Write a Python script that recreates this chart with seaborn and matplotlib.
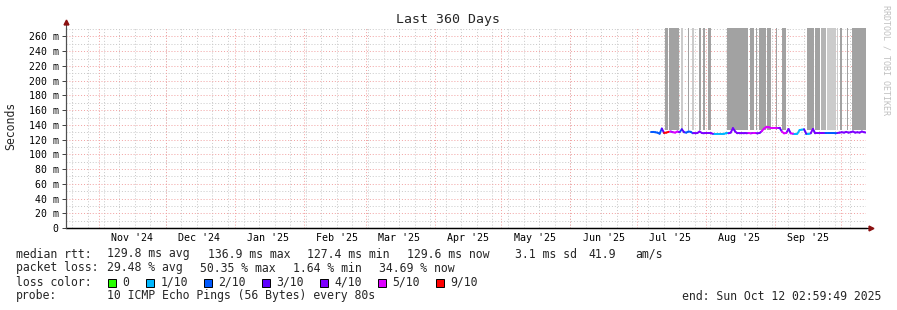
import numpy as np
import pandas as pd
import matplotlib
matplotlib.use("Agg")
import matplotlib.pyplot as plt
from matplotlib.patches import Rectangle
import seaborn as sns

# ---------------- data ----------------
data_start = "2025-07-07 06:00"
rtt_ms = [
    # July 7..31
    130.5, 130.5, 130, 129.5, 128, 135, 129, 129.5, 130.5, 131, 130, 129.5, 131,
    130, 134, 130, 129.5, 131, 130.5, 128.5, 128.5, 129, 131, 129, 128.5,
    # August 1..31
    128.5, 128.5, 128.5, 128, 128, 128, 128, 128, 128, 128.5, 128.5, 129.5, 135.5,
    131, 128.5, 128.5, 129, 128.5, 128.5, 129, 128.5, 129, 129, 128.5, 129, 131.5,
    135, 136.5, 136.5, 136, 136,
    # September 1..30
    136, 136, 136, 131, 128.5, 129, 134.5, 128.5, 128, 128, 128, 133, 133.5, 134,
    128, 128, 128.5, 134.5, 128.5, 128.5, 128.5, 128.5, 128.5, 128.5, 128.5, 128.5,
    128.5, 128.5, 129, 129.5,
    # October 1..12
    130, 129.5, 130.5, 129.5, 130, 131, 129.5, 130, 129.5, 131, 130, 129.5,
]
loss_level = [
    "2/10", "2/10", "2/10", "2/10", "2/10", "3/10", "9/10", "9/10", "5/10", "4/10", "5/10", "5/10", "4/10",
    "2/10", "3/10", "2/10", "2/10", "2/10", "2/10", "4/10", "4/10", "4/10", "4/10", "4/10", "4/10",
    "4/10", "4/10", "4/10", "1/10", "1/10", "1/10", "1/10", "1/10", "1/10", "1/10", "4/10", "4/10", "3/10",
    "4/10", "4/10", "4/10", "4/10", "4/10", "4/10", "5/10", "4/10", "5/10", "4/10", "4/10", "4/10", "5/10",
    "5/10", "5/10", "5/10", "5/10", "5/10",
    "5/10", "4/10", "3/10", "5/10", "5/10", "4/10", "3/10", "5/10", "1/10", "1/10", "1/10", "1/10", "1/10", "3/10",
    "1/10", "1/10", "4/10", "3/10", "4/10", "4/10", "4/10", "4/10", "2/10", "2/10", "2/10", "2/10",
    "2/10", "2/10", "4/10", "4/10",
    "4/10", "4/10", "4/10", "4/10", "4/10", "4/10", "4/10", "4/10", "4/10", "4/10", "4/10", "4/10",
]
loss_labels = ["0", "1/10", "2/10", "3/10", "4/10", "5/10", "9/10"]
loss_colors = ["#26ff00", "#00b8ff", "#0059ff", "#5e00ff", "#7e00ff", "#dd00ff", "#ff0000"]

# smoke (packet-loss / spread) bands reaching the top of the graph
band_start = ["2025-07-13 16:00", "2025-07-15 11:00", "2025-07-20 21:00", "2025-07-24 01:00",
              "2025-07-25 20:00", "2025-07-28 23:00", "2025-07-30 19:00", "2025-08-02 05:00",
              "2025-08-10 14:00", "2025-08-20 22:00", "2025-08-23 15:00", "2025-08-24 20:00",
              "2025-08-28 14:00", "2025-09-01 15:00", "2025-09-04 13:00", "2025-09-15 14:00",
              "2025-09-19 04:00", "2025-09-21 17:00", "2025-09-24 10:00", "2025-09-28 22:00",
              "2025-09-30 15:00", "2025-10-03 14:00", "2025-10-05 20:00"]
band_end = ["2025-07-15 01:00", "2025-07-19 23:00", "2025-07-21 19:00", "2025-07-24 11:00",
            "2025-07-26 17:00", "2025-07-29 21:00", "2025-07-31 16:00", "2025-08-03 05:00",
            "2025-08-20 01:00", "2025-08-22 17:00", "2025-08-24 01:00", "2025-08-27 23:00",
            "2025-08-30 09:00", "2025-09-02 01:00", "2025-09-06 03:00", "2025-09-18 17:00",
            "2025-09-21 10:00", "2025-09-24 03:00", "2025-09-28 10:00", "2025-09-29 10:00",
            "2025-10-01 08:00", "2025-10-04 03:00", "2025-10-12 03:00"]
band_shade = ["dark", "dark", "light", "dark", "light", "dark", "dark", "dark",
              "dark", "dark", "dark", "dark", "dark", "dark", "dark", "dark",
              "dark", "mid", "light", "light", "dark", "dark", "dark"]
smoke_floor_ms = 133

month_labels = ["Nov '24", "Dec '24", "Jan '25", "Feb '25", "Mar '25", "Apr '25",
                "May '25", "Jun '25", "Jul '25", "Aug '25", "Sep '25"]
y_ticks = [0, 20, 40, 60, 80, 100, 120, 140, 160, 180, 200, 220, 240, 260]
y_tick_labels = ["0"] + [f"{v} m" for v in y_ticks[1:]]

title = "Last 360 Days"
end_time = pd.Timestamp("2025-10-12 02:59:49")
start_time = end_time - pd.Timedelta(days=360)

# ---------------- figure ----------------
sns.set_theme(style="white")
plt.rcParams["font.family"] = ["DejaVu Sans Mono", "DejaVu Sans"]

W, H = 897, 310
fig = plt.figure(figsize=(W / 100, H / 100), dpi=100)
fig.patch.set_facecolor("white")
ax = fig.add_axes([66 / W, 1 - 228 / H, 800 / W, 200 / H])
ax.set_facecolor("white")
ymax = 271.5
ax.set_xlim(start_time, end_time)
ax.set_ylim(0, ymax)

# grid (beneath the smoke)
red = "#f2a0a0"
grey = "#c8c8c8"
dots = (0, (1, 2))
for v in np.arange(10, 271, 20):
    ax.axhline(v, color=grey, lw=0.7, ls=dots, zorder=0.5)
for v in y_ticks[1:]:
    ax.axhline(v, color=red, lw=0.7, ls=dots, zorder=0.6)
for d in pd.date_range("2024-10-20", end_time, freq="7D"):
    ax.axvline(d, color=grey, lw=0.7, ls=dots, zorder=0.5)
month_starts = pd.date_range("2024-11-01", end_time, freq="MS")
for d in month_starts:
    ax.axvline(d, color=red, lw=0.7, ls=dots, zorder=0.6)

# bands
shade_col = {"dark": "#a2a2a2", "mid": "#b4b4b4", "light": "#cbcbcb"}
for s, e, sh in zip(band_start, band_end, band_shade):
    ax.fill_between([pd.Timestamp(s), pd.Timestamp(e)], smoke_floor_ms, ymax,
                    color=shade_col[sh], linewidth=0, zorder=1)

# median line coloured by loss: one 2-point unit per interval
dates = pd.date_range(data_start, periods=len(rtt_ms), freq="D")
rows = []
for k in range(len(rtt_ms) - 1):
    for j in (k, k + 1):
        rows.append({"date": dates[j], "rtt": rtt_ms[j], "loss": loss_level[k], "seg": k})
df = pd.DataFrame(rows)
sns.lineplot(data=df, x="date", y="rtt", hue="loss", units="seg", estimator=None,
             palette=dict(zip(loss_labels, loss_colors)), hue_order=loss_labels,
             sort=False, legend=False, lw=1.4, ax=ax, zorder=3)
ax.set_xlim(start_time, end_time)
ax.set_ylim(0, ymax)

# axes, ticks
for sp in ("top", "right"):
    ax.spines[sp].set_visible(False)
ax.spines["left"].set_color("#505050")
ax.spines["left"].set_linewidth(0.8)
ax.spines["bottom"].set_color("black")
ax.spines["bottom"].set_linewidth(0.9)
ax.set_yticks(y_ticks)
ax.set_yticklabels(y_tick_labels)
ax.tick_params(axis="y", length=3, width=0.7, color="#404040", pad=2.2,
               labelsize=7.1, labelcolor="black", left=True)
mids = [d + pd.Timedelta(days=15) for d in month_starts[:len(month_labels)]]
ax.set_xticks(mids)
ax.set_xticklabels(month_labels)
ax.tick_params(axis="x", length=0, pad=3.5, labelsize=7.2, labelcolor="black")
ax.set_xlabel("")
ax.set_ylabel("")

# axis arrows
ax.plot([0, 1.006], [0, 0], transform=ax.transAxes, color="black", lw=0.9, clip_on=False, zorder=4)
ax.plot([0, 0], [0, 1.03], transform=ax.transAxes, color="#505050", lw=0.8, clip_on=False, zorder=4)
ax.plot([1.006], [0], marker=">", ms=3.5, color="#8b1010", transform=ax.transAxes, clip_on=False, zorder=5)
ax.plot([0], [1.03], marker="^", ms=3.5, color="#8b1010", transform=ax.transAxes, clip_on=False, zorder=5)


def ftext(x, y, s, **kw):
    fig.text(x / W, 1 - y / H, s, va="center", **kw)


ftext(448, 19, title, ha="center", fontsize=9.5)
ftext(11, 126, "Seconds", ha="center", rotation=90, fontsize=8.3)
ftext(886, 60, "RRDTOOL / TOBI OETIKER", ha="center", rotation=270, fontsize=6, color="#c0c0c0")

fs = 8.3
line1 = [("median rtt:", 16), ("129.8 ms avg", 107), ("136.9 ms max", 207.5),
         ("127.4 ms min", 307.3), ("129.6 ms now", 406.7), ("3.1 ms sd", 515),
         ("41.9", 588), ("am/s", 635.3)]
for s, x in line1:
    ftext(x, 254, s, ha="left", fontsize=fs)
line2 = [("packet loss:", 16), ("29.48 % avg", 107), ("50.35 % max", 200),
         ("1.64 % min", 292.7), ("34.69 % now", 379.3)]
for s, x in line2:
    ftext(x, 268, s, ha="left", fontsize=fs)
ftext(16, 282, "loss color:", ha="left", fontsize=fs)
box_x = [108, 146, 203.5, 261.5, 320, 378, 436]
for lab, col, bx in zip(loss_labels, loss_colors, box_x):
    fig.patches.append(Rectangle((bx / W, 1 - 286.5 / H), 8 / W, 8 / H,
                                 transform=fig.transFigure, facecolor=col,
                                 edgecolor="black", lw=0.7))
    ftext(bx + 14.5, 282, lab, ha="left", fontsize=fs)
ftext(16, 296, "probe:", ha="left", fontsize=fs)
ftext(107, 296, "10 ICMP Echo Pings (56 Bytes) every 80s", ha="left", fontsize=fs)
ftext(881, 296, "end: Sun Oct 12 02:59:49 2025", ha="right", fontsize=fs)

fig.savefig("out.png", dpi=100, facecolor="white")
